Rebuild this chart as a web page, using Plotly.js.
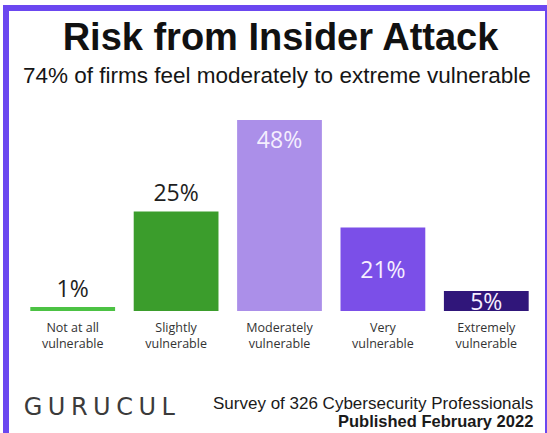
<!DOCTYPE html>
<html>
<head>
<meta charset="utf-8">
<script src="https://cdn.plot.ly/plotly-3.0.1.min.js"></script>
<style>
  html, body { margin: 0; padding: 0; background: #ffffff; }
  #chart { width: 547px; height: 433px; }
</style>
</head>
<body>
<div id="chart"></div>
<script>
// ---- Data ----
const categories = [
  "Not at all<br>vulnerable",
  "Slightly<br>vulnerable",
  "Moderately<br>vulnerable",
  "Very<br>vulnerable",
  "Extremely<br>vulnerable"
];
const values = [1, 25, 48, 21, 5];
const valueLabels = ["1%", "25%", "48%", "21%", "5%"];
const barColors = ["#4cc244", "#3b9d2c", "#ab8fe9", "#7b4fe8", "#30167a"];

const titleText = "Risk from Insider Attack";
const subtitleText = "74% of firms feel moderately to extreme vulnerable";
const surveyText = "Survey of 326 Cybersecurity Professionals";
const publishedText = "Published February 2022";
const logoText = "GURUCUL";

// ---- Layout geometry (pixels) ----
const W = 547, H = 433;
const M = { l: 21, r: 9, t: 100, b: 122 };
const plotW = W - M.l - M.r, plotH = H - M.t - M.b;
const px = x => (x - M.l) / plotW;           // pixel x -> paper
const py = y => (H - M.b - y) / plotH;       // pixel y -> paper

const valueFont = { family: "Open Sans, sans-serif", size: 23, weight: 500 };

// bars labelled above / at top (first three) and centered (last two)
const splitAt = 3;
const traceA = {
  type: "bar",
  x: categories.slice(0, splitAt),
  y: values.slice(0, splitAt),
  text: valueLabels.slice(0, splitAt),
  textposition: ["outside", "outside", "inside"],
  insidetextanchor: "end",
  constraintext: "none",
  cliponaxis: false,
  texttemplate: "%{text}",
  hoverinfo: "x+y",
  marker: { color: barColors.slice(0, splitAt), line: { width: 0 } },
  outsidetextfont: Object.assign({}, valueFont, { color: "#1e1e1e" }),
  insidetextfont: Object.assign({}, valueFont, { color: "#f4eefe" })
};
const traceB = {
  type: "bar",
  x: categories.slice(splitAt),
  y: values.slice(splitAt),
  text: valueLabels.slice(splitAt),
  textposition: "inside",
  insidetextanchor: "middle",
  constraintext: "none",
  cliponaxis: false,
  texttemplate: "%{text}",
  hoverinfo: "x+y",
  marker: { color: barColors.slice(splitAt), line: { width: 0 } },
  insidetextfont: Object.assign({}, valueFont, { color: "#f6efff" })
};

const layout = {
  width: W, height: H,
  margin: M,
  paper_bgcolor: "#ffffff",
  plot_bgcolor: "#ffffff",
  showlegend: false,
  barmode: "overlay",
  bargap: 0.18,
  title: {
    text: "<b>" + titleText + "</b>",
    font: { family: "Liberation Sans, Arial, sans-serif", size: 38, color: "#111111" },
    x: 280.5 / W, xanchor: "center", xref: "container",
    y: 1 - 37 / H, yanchor: "middle", yref: "container"
  },
  xaxis: {
    type: "category",
    categoryorder: "array",
    categoryarray: categories,
    range: [-0.5, categories.length - 0.5],
    showgrid: false, zeroline: false, showline: false,
    ticks: "", ticklen: 0,
    ticklabelstandoff: 7,
    tickfont: { family: "Open Sans, sans-serif", size: 12.5, color: "#333333" },
    fixedrange: true
  },
  yaxis: {
    range: [0, 53],
    visible: false,
    showgrid: false, zeroline: false,
    fixedrange: true
  },
  annotations: [
    {
      text: subtitleText, xref: "paper", yref: "paper",
      x: px(276.5), y: py(76), xanchor: "center", yanchor: "middle",
      showarrow: false,
      font: { family: "Liberation Sans, Arial, sans-serif", size: 22.5, color: "#151515" }
    },
    {
      text: surveyText, xref: "paper", yref: "paper",
      x: px(535), y: py(403), xanchor: "right", yanchor: "middle",
      showarrow: false,
      font: { family: "Liberation Sans, Arial, sans-serif", size: 17, color: "#1a1a1a" }
    },
    {
      text: "<b>" + publishedText + "</b>", xref: "paper", yref: "paper",
      x: px(535), y: py(421), xanchor: "right", yanchor: "middle",
      showarrow: false,
      font: { family: "Liberation Sans, Arial, sans-serif", size: 16.5, color: "#1a1a1a" }
    },
    {
      text: logoText, xref: "paper", yref: "paper",
      x: px(102), y: py(407), xanchor: "center", yanchor: "middle",
      showarrow: false,
      font: { family: "DejaVu Sans, sans-serif", size: 24, color: "#3b3b3b" }
    }
  ],
  shapes: [
    {
      type: "rect", xref: "paper", yref: "paper",
      x0: px(6), x1: px(548), y0: py(445), y1: py(8),
      line: { color: "#6b47f0", width: 6 },
      fillcolor: "rgba(0,0,0,0)",
      layer: "above"
    }
  ]
};

Plotly.newPlot("chart", [traceA, traceB], layout, { displayModeBar: false, staticPlot: true })
  .then(() => {
    document.querySelectorAll(".annotation-text").forEach(t => {
      if (t.textContent === logoText) {
        t.setAttribute("letter-spacing", "5.5px");
        t.style.letterSpacing = "5.5px";
      }
    });
  });
</script>
</body>
</html>
